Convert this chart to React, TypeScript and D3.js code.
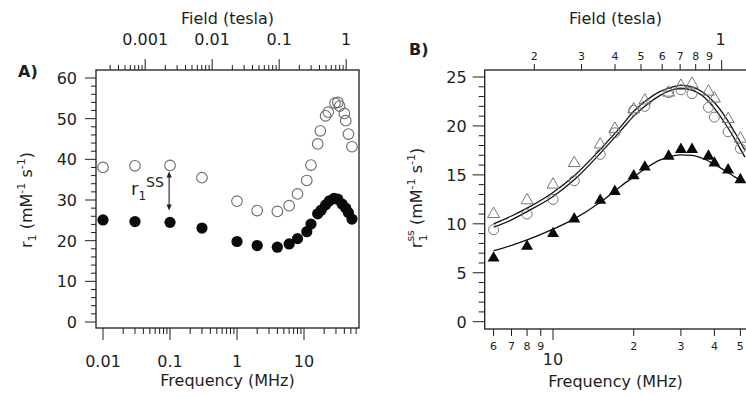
import * as d3 from "d3";

const MHZ_PER_TESLA = 42.58;
const FONT = "DejaVu Sans, Verdana, sans-serif";
const INK = "#1e1e1e";

// Panel A: full NMRD profile
const freqOpenA = [0.01, 0.03, 0.1, 0.3, 1, 2, 4, 6, 8, 11, 12.7, 16, 17.5, 21, 23, 29, 32, 34, 40, 42, 46, 52];
const r1OpenA = [38.0, 38.4, 38.5, 35.5, 29.7, 27.4, 27.2, 28.6, 31.5, 34.8, 38.6, 43.8, 47.0, 50.7, 51.6, 53.8, 54.0, 53.1, 51.3, 49.5, 46.2, 43.1];
const freqFilledA = [0.01, 0.03, 0.1, 0.3, 1, 2, 4, 6, 8, 11, 12.7, 16, 18, 21, 24, 28, 32, 37, 42, 46, 52];
const r1FilledA = [25.1, 24.7, 24.5, 23.1, 19.8, 18.8, 18.4, 19.2, 20.5, 22.2, 24.1, 26.6, 27.5, 28.8, 29.8, 30.4, 30.2, 29.0, 28.0, 26.9, 25.3];
const yTicksA = [0, 10, 20, 30, 40, 50, 60];
const freqLabelsA = [0.01, 0.1, 1, 10];
const fieldLabelsA = [0.001, 0.01, 0.1, 1];

// Panel B: r1 second-sphere, with fits
const freqB = [6, 8, 10, 12, 15, 17, 20, 22, 27, 30, 33, 38, 40, 45, 50];
const r1ssOpenTriB = [11.0, 12.4, 14.0, 16.2, 18.1, 19.7, 21.7, 22.6, 23.4, 24.1, 24.3, 23.5, 22.8, 20.7, 18.7];
const r1ssOpenCircB = [9.4, 11.0, 12.5, 14.4, 17.1, 19.3, 21.6, 22.0, 23.4, 23.7, 23.3, 21.9, 20.9, 19.4, 17.7];
const r1ssFilledB = [6.5, 7.7, 9.0, 10.5, 12.4, 13.3, 14.9, 15.8, 16.9, 17.6, 17.6, 16.9, 16.2, 15.5, 14.5];
const fitFreqB = [6, 7, 8, 10, 12, 15, 18, 20, 22, 25, 28, 30, 33, 36, 40, 44, 48, 52];
const fitOpenTriB = [10.0, 10.8, 11.6, 13.2, 14.9, 17.6, 20.0, 21.5, 22.5, 23.5, 24.0, 24.15, 24.0, 23.5, 22.4, 20.9, 19.2, 17.5];
const fitOpenCircB = [9.65, 10.4, 11.25, 12.8, 14.5, 17.2, 19.6, 21.0, 22.0, 23.1, 23.7, 23.85, 23.65, 23.1, 21.8, 20.2, 18.5, 16.8];
const fitFilledB = [7.25, 7.8, 8.35, 9.45, 10.5, 12.2, 13.9, 14.8, 15.6, 16.5, 16.95, 17.05, 17.0, 16.7, 16.1, 15.4, 14.75, 14.2];
const yTicksB = [0, 5, 10, 15, 20, 25];
const freqTicksB = [6, 7, 8, 9, 10, 20, 30, 40, 50];
const fieldTicksB = [0.2, 0.3, 0.4, 0.5, 0.6, 0.7, 0.8, 0.9, 1];

function logTicks(fromExp: number, toExp: number) {
  const out: { v: number; major: boolean }[] = [];
  for (let e = fromExp; e <= toExp; e++) {
    for (let k = 1; k <= 9; k++) out.push({ v: k * Math.pow(10, e), major: k === 1 });
  }
  return out;
}

function PanelA() {
  const left = 96, right = 359, top = 70, bottom = 328;
  const x = d3.scaleLog().domain([0.00786, 66.2]).range([left, right]);
  const y = d3.scaleLinear().domain([0, 60]).range([322, 78]);

  const bottomTicks = logTicks(-3, 1).filter((t) => x(t.v) >= left + 5 && x(t.v) <= right);
  const topTicks = logTicks(-4, 0).filter((t) => x(t.v * MHZ_PER_TESLA) >= left + 5 && x(t.v * MHZ_PER_TESLA) <= right);
  const yMinor = d3.range(0, 61, 2);
  const arrowX = x(0.097);

  return (
    <g>
      <rect x={left} y={top} width={right - left} height={bottom - top} fill="none" stroke={INK} strokeWidth={1.3} />
      {yMinor.map((v) => {
        const major = v % 10 === 0;
        return <line key={v} x1={left - (major ? 11 : 5)} x2={left} y1={y(v)} y2={y(v)} stroke={INK} strokeWidth={1} />;
      })}
      {yTicksA.map((v) => (
        <text key={v} x={left - 19} y={y(v) + 6} textAnchor="end" fontSize={16} fill={INK}>{v}</text>
      ))}
      {bottomTicks.map((t) => (
        <line key={t.v} x1={x(t.v)} x2={x(t.v)} y1={bottom} y2={bottom + (t.major ? 12 : 6)} stroke={INK} strokeWidth={1} />
      ))}
      {freqLabelsA.map((v) => (
        <text key={v} x={x(v)} y={367} textAnchor="middle" fontSize={16} fill={INK}>{v}</text>
      ))}
      {topTicks.map((t) => {
        const px = x(t.v * MHZ_PER_TESLA);
        return <line key={t.v} x1={px} x2={px} y1={top} y2={top - (t.major ? 11 : 5)} stroke={INK} strokeWidth={1} />;
      })}
      {fieldLabelsA.map((v) => (
        <text key={v} x={x(v * MHZ_PER_TESLA)} y={45} textAnchor="middle" fontSize={16} fill={INK}>{v}</text>
      ))}
      <text x={(left + right) / 2} y={24} textAnchor="middle" fontSize={16} fill={INK}>Field (tesla)</text>
      <text x={(left + right) / 2} y={386} textAnchor="middle" fontSize={16} fill={INK}>Frequency (MHz)</text>
      <text transform="translate(32,200) rotate(-90)" textAnchor="middle" fontSize={16} fill={INK}>
        r<tspan fontSize={11} dy={4}>1</tspan>
        <tspan dy={-4}> (mM</tspan>
        <tspan fontSize={11} dy={-7}>-1</tspan>
        <tspan dy={7}> s</tspan>
        <tspan fontSize={11} dy={-7}>-1</tspan>
        <tspan dy={7}>)</tspan>
      </text>
      <text x={18} y={77} fontSize={16} fontWeight="bold" fill={INK}>A)</text>

      {freqOpenA.map((f, i) => (
        <circle key={"o" + i} cx={x(f)} cy={y(r1OpenA[i])} r={5.3} fill="white" fillOpacity={0} stroke="#6a6a6a" strokeWidth={1.1} />
      ))}
      {freqFilledA.map((f, i) => (
        <circle key={"f" + i} cx={x(f)} cy={y(r1FilledA[i])} r={5.6} fill="#0a0a0a" />
      ))}

      <line x1={arrowX} x2={arrowX} y1={175} y2={207} stroke={INK} strokeWidth={1.1} />
      <path d={`M${arrowX},171.5 l-2.6,6 h5.2 Z`} fill={INK} />
      <path d={`M${arrowX},210.5 l-2.6,-6 h5.2 Z`} fill={INK} />
      <text x={131} y={195} fontSize={18} fill={INK}>
        r<tspan fontSize={12} dy={5}>1</tspan>
        <tspan fontSize={14} dy={-13}>SS</tspan>
      </text>
    </g>
  );
}

function PanelB() {
  const left = 484.7, right = 780, top = 70, bottom = 329;
  const x = d3.scaleLog().domain([Math.pow(10, 0.745), 70]).range([left, left + (Math.log10(70) - 0.745) * 268]);
  const y = d3.scaleLinear().domain([0, 25]).range([321.7, 77]);

  const yMinor = d3.range(0, 26, 1);
  const line = d3.line<[number, number]>().x((d) => x(d[0])).y((d) => y(d[1])).curve(d3.curveMonotoneX);
  const fits = [fitOpenTriB, fitOpenCircB, fitFilledB];
  const tri = d3.symbol(d3.symbolTriangle, 62)() ?? "";

  return (
    <g>
      <rect x={left} y={top} width={right - left} height={bottom - top} fill="none" stroke={INK} strokeWidth={1.3} />
      {yMinor.map((v) => {
        const major = v % 5 === 0;
        return <line key={v} x1={left - (major ? 12 : 6)} x2={left} y1={y(v)} y2={y(v)} stroke={INK} strokeWidth={1} />;
      })}
      {yTicksB.map((v) => (
        <text key={v} x={left - 18} y={y(v) + 6} textAnchor="end" fontSize={16} fill={INK}>{v}</text>
      ))}
      {freqTicksB.map((f) => {
        const major = f === 10;
        return (
          <g key={f}>
            <line x1={x(f)} x2={x(f)} y1={bottom} y2={bottom + (major ? 11 : 7)} stroke={INK} strokeWidth={1} />
            {major ? (
              <text x={x(f)} y={365} textAnchor="middle" fontSize={16} fill={INK}>10</text>
            ) : (
              <text x={x(f)} y={349.5} textAnchor="middle" fontSize={11} fill={INK}>{f < 10 ? f : f / 10}</text>
            )}
          </g>
        );
      })}
      {fieldTicksB.map((b) => {
        const px = x(b * MHZ_PER_TESLA);
        const major = b === 1;
        return (
          <g key={b}>
            <line x1={px} x2={px} y1={top} y2={top - (major ? 10 : 6)} stroke={INK} strokeWidth={1} />
            {major ? (
              <text x={px - 1} y={45} textAnchor="middle" fontSize={16} fill={INK}>1</text>
            ) : (
              <text x={px} y={60} textAnchor="middle" fontSize={11} fill={INK}>{Math.round(b * 10)}</text>
            )}
          </g>
        );
      })}
      <text x={615.5} y={24} textAnchor="middle" fontSize={16} fill={INK}>Field (tesla)</text>
      <text x={615.5} y={387} textAnchor="middle" fontSize={16} fill={INK}>Frequency (MHz)</text>
      <text transform="translate(422,198) rotate(-90)" textAnchor="middle" fontSize={16} fill={INK}>
        r<tspan fontSize={11} dy={5}>1</tspan>
        <tspan fontSize={11} dx={-7} dy={-13}>ss</tspan>
        <tspan dy={8}> (mM</tspan>
        <tspan fontSize={11} dy={-7}>-1</tspan>
        <tspan dy={7}> s</tspan>
        <tspan fontSize={11} dy={-7}>-1</tspan>
        <tspan dy={7}>)</tspan>
      </text>
      <text x={409} y={55} fontSize={16} fontWeight="bold" fill={INK}>B)</text>

      {fits.map((vals, k) => (
        <path key={k} d={line(fitFreqB.map((f, i) => [f, vals[i]] as [number, number])) ?? ""} fill="none" stroke="#111" strokeWidth={1.3} />
      ))}
      {freqB.map((f, i) => (
        <path key={"t" + i} d={tri} transform={`translate(${x(f)},${y(r1ssOpenTriB[i])})`} fill="none" stroke="#777" strokeWidth={1} />
      ))}
      {freqB.map((f, i) => (
        <circle key={"c" + i} cx={x(f)} cy={y(r1ssOpenCircB[i])} r={5} fill="none" stroke="#777" strokeWidth={1} />
      ))}
      {freqB.map((f, i) => (
        <path key={"ft" + i} d={tri} transform={`translate(${x(f)},${y(r1ssFilledB[i])})`} fill="#0a0a0a" />
      ))}
    </g>
  );
}

export default function App() {
  return (
    <>
      <style>{`body{margin:0}`}</style>
      <svg width={746} height={398} style={{ display: "block", background: "white", fontFamily: FONT }}>
        <PanelA />
        <PanelB />
      </svg>
    </>
  );
}
